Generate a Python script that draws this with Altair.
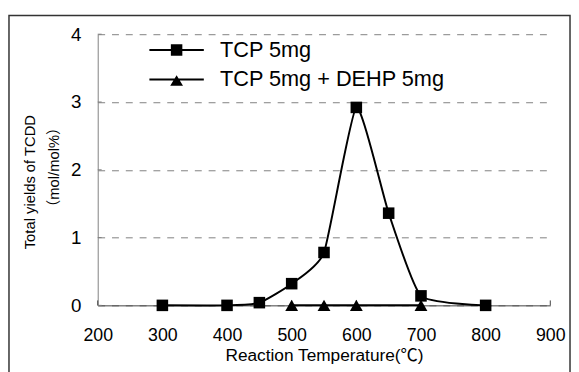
import altair as alt
import pandas as pd

# ---- data ----
series_names = ["TCP 5mg", "TCP 5mg + DEHP 5mg"]
tcp_temps = [300, 400, 450, 500, 550, 600, 650, 700, 800]
tcp_vals = [0.0, 0.0, 0.04, 0.32, 0.78, 2.92, 1.36, 0.14, 0.0]
dehp_temps = [500, 550, 600, 700]
dehp_vals = [0.0, 0.0, 0.0, 0.0]
x_ticks = [200, 300, 400, 500, 600, 700, 800, 900]
y_ticks = [0, 1, 2, 3, 4]

rows = []
for t, v in zip(tcp_temps, tcp_vals):
    rows.append({"series": series_names[0], "temp": t, "value": v})
for t, v in zip(dehp_temps, dehp_vals):
    rows.append({"series": series_names[1], "temp": t, "value": v})
df = pd.DataFrame(rows)

FONT = "Liberation Sans, Arial, Noto Sans CJK JP"
W, H = 459, 275

x_scale = alt.Scale(domain=[200, 900], nice=False, zero=False)
y_scale = alt.Scale(domain=[0, 4], nice=False)

x_axis = alt.Axis(values=x_ticks, ticks=False, grid=False, labelFontSize=18, labelFont=FONT,
                  labelColor="black", labelPadding=22, domainColor="#404040", domainWidth=1,
                  title="Reaction Temperature(℃)", titleFont=FONT, titleFontSize=17.5,
                  titleFontWeight="normal", titleColor="black", titleBaseline="alphabetic",
                  titleY=55.5, labelFlush=False)
y_axis = alt.Axis(values=y_ticks, format="d", ticks=False, grid=True, gridDash=[7, 7],
                  gridColor="#808080", gridWidth=1, labelFontSize=19, labelFont=FONT,
                  labelColor="black", labelPadding=17, domainColor="#808080", domainWidth=1,
                  title=None)

base = alt.Chart(df)

frame = alt.Chart(alt.Data(values=[{}])).mark_rect(
    fillOpacity=0, stroke="#333333", strokeWidth=1.5
).encode(x=alt.value(-90), x2=alt.value(479), y=alt.value(-19), y2=alt.value(420))

axes = base.mark_point(opacity=0).encode(
    x=alt.X("temp:Q", scale=x_scale, axis=x_axis),
    y=alt.Y("value:Q", scale=y_scale, axis=y_axis),
)

ytick_df = pd.DataFrame({"v": y_ticks})
ytick_rules = alt.Chart(ytick_df).mark_rule(color="#808080", strokeWidth=1).encode(
    y=alt.Y("v:Q", scale=y_scale), x=alt.value(0), x2=alt.value(4)
)
xtick_df = pd.DataFrame({"t": x_ticks})
xtick_rules = alt.Chart(xtick_df).mark_rule(color="#404040", strokeWidth=1).encode(
    x=alt.X("t:Q", scale=x_scale), y=alt.value(H), y2=alt.value(H - 5)
)

lines = base.mark_line(interpolate="cardinal", tension=0.5, color="black", strokeWidth=2).encode(
    x=alt.X("temp:Q", scale=x_scale),
    y=alt.Y("value:Q", scale=y_scale),
    detail="series:N",
)

points = base.mark_point(filled=True, opacity=1, color="black").encode(
    x=alt.X("temp:Q", scale=x_scale),
    y=alt.Y("value:Q", scale=y_scale),
    shape=alt.Shape("series:N", scale=alt.Scale(domain=series_names, range=["square", "triangle-up"]), legend=None),
    size=alt.Size("series:N", scale=alt.Scale(domain=series_names, range=[137, 169]), legend=None),
)

legend_paths = [
    "M-4.6,-0.17H4.6V0.17H-4.6ZM-0.97,-0.97H0.97V0.97H-0.97Z",
    "M-4.6,-0.17H4.6V0.17H-4.6ZM0,-0.75L1.08,1.05H-1.08Z",
]
legend_layer = base.transform_filter("datum.temp < 0").mark_point(
    filled=True, color="black", opacity=1
).encode(
    x=alt.X("temp:Q", scale=x_scale),
    y=alt.Y("value:Q", scale=y_scale),
    shape=alt.Shape("series:N", scale=alt.Scale(domain=series_names, range=legend_paths),
                    legend=alt.Legend(orient="none", legendX=69, legendY=5, title=None,
                                      symbolSize=144, symbolStrokeWidth=0,
                                      symbolFillColor="black",
                                      symbolOpacity=1, labelFont=FONT, labelFontSize=22,
                                      labelColor="black", labelOffset=33, labelLimit=400,
                                      rowPadding=8, padding=0)),
)

ytitle1 = alt.Chart(alt.Data(values=[{}])).mark_text(
    angle=270, font=FONT, fontSize=15, color="black", align="center", baseline="middle"
).encode(x=alt.value(-69), y=alt.value(150), text=alt.value("Total yields of TCDD"))
ytitle2 = alt.Chart(alt.Data(values=[{}])).mark_text(
    angle=270, font=FONT, fontSize=15, color="black", align="center", baseline="middle"
).encode(x=alt.value(-44), y=alt.value(135), text=alt.value("（mol/mol%）"))

chart = alt.layer(
    frame, axes, ytick_rules, xtick_rules, lines, points, legend_layer, ytitle1, ytitle2
).resolve_scale(shape="independent", size="independent").resolve_legend(
    shape="independent"
).properties(
    width=W, height=H,
    autosize=alt.AutoSizeParams(type="none"),
    padding={"left": 91, "top": 24, "right": 21, "bottom": 65},
    background="white",
).configure_view(stroke=None)

chart.save("out.html", embed_options={"renderer": "svg", "actions": False})
